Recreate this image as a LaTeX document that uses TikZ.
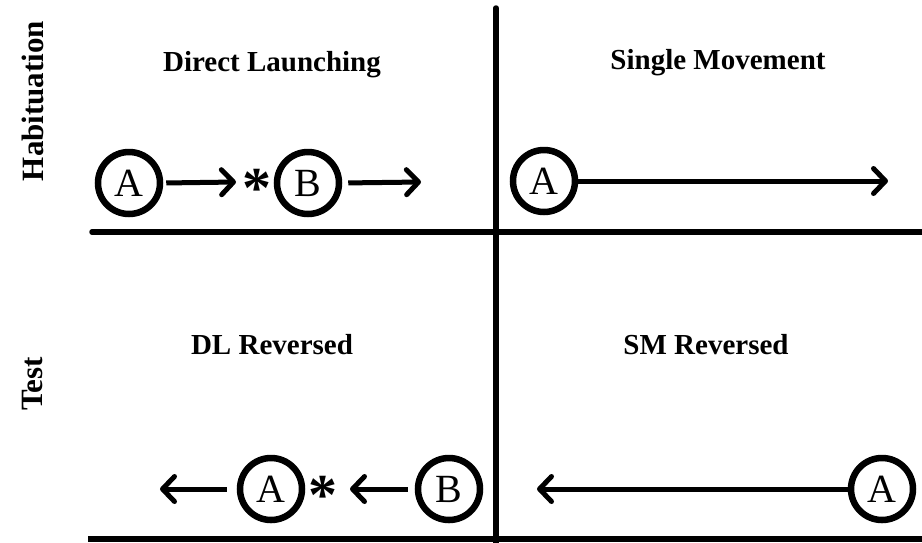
\documentclass[tikz,border=0pt]{standalone}
\usepackage{fontspec}
\setmainfont{Liberation Serif}
\usetikzlibrary{arrows.meta}
\begin{document}
\begin{tikzpicture}[x=1pt,y=-1pt,
  obj/.style={circle,draw,line width=6.5pt,minimum size=62pt,inner sep=0pt,font=\fontsize{40}{40}\selectfont},
  title/.style={font=\bfseries\fontsize{29}{29}\selectfont,inner sep=0pt},
  side/.style={font=\bfseries\fontsize{31}{31}\selectfont,inner sep=0pt,rotate=90},
  axis/.style={line width=5.5pt},
  mv/.style={line width=5pt,-{Straight Barb[length=12pt,width=25pt,line cap=round,line join=round]}},
  starnode/.style={font=\bfseries\fontsize{58}{58}\selectfont,inner sep=0pt}]
\clip (0,0) rectangle (922,542);
% axes
\coordinate (vtop) at (496,8);
\coordinate (vbot) at (496,545);
\coordinate (h1l) at (92,232);
\coordinate (h1r) at (925,232);
\coordinate (h2l) at (88,539);
\coordinate (h2r) at (925,539);
\draw[axis,line cap=round] (vbot) -- (vtop);
\draw[axis,line cap=round] (h1l) -- (h1r);
\draw[axis] (h2l) -- (h2r);
% titles
\node[title] (t1) at (272,65) {Direct Launching};
\node[title] (t2) at (718,63) {Single Movement};
\node[title] (t3) at (272,345) {DL Reversed};
\node[title] (t4) at (706,345) {SM Reversed};
\node[side] (hab) at (33,101) {Habituation};
\node[side] (tst) at (33,384) {Test};
% direct launching
\node[obj] (a1) at (129,183) {A};
\node[starnode] (s1) at (257,188) {*};
\node[obj] (b1) at (308,183) {B};
\coordinate (e1) at (236,182);
\coordinate (e2) at (421,182);
\draw[mv,shorten <=3pt] (a1.east) -- (e1);
\draw[mv,shorten <=6pt] (b1.east) -- (e2);
% single movement
\node[obj] (a2) at (544,181) {A};
\coordinate (e3) at (888,181);
\draw[mv] (a2.east) -- (e3);
% DL reversed
\node[obj] (b3) at (449,489) {B};
\node[starnode] (s3) at (323,495) {*};
\node[obj] (a3) at (271,489) {A};
\coordinate (e4) at (350,489);
\coordinate (e5) at (160,489);
\draw[mv,shorten <=7pt] (b3.west) -- (e4);
\draw[mv,shorten <=10pt] (a3.west) -- (e5);
% SM reversed
\node[obj] (a4) at (882,489) {A};
\coordinate (e6) at (537,489);
\draw[mv] (a4.west) -- (e6);
\end{tikzpicture}
\end{document}
